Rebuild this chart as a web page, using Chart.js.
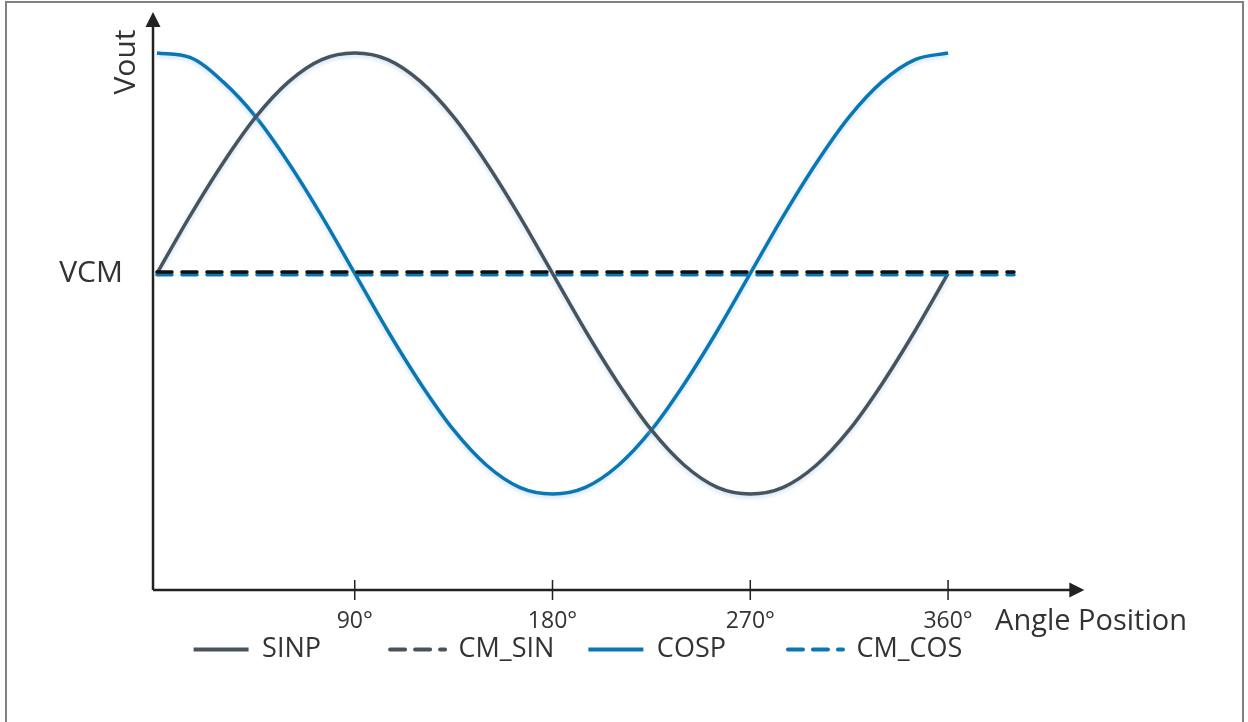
<!DOCTYPE html>
<html>
<head>
<meta charset="utf-8">
<script src="https://cdn.jsdelivr.net/npm/chart.js@4.4.1/dist/chart.umd.min.js"></script>
<style>
  html, body { margin: 0; padding: 0; background: #fff; overflow: hidden; }
  #wrap { position: relative; width: 1248px; height: 722px; overflow: hidden; }
  #frame { position: absolute; left: 5px; top: 1px; width: 1235px; height: 800px; border: 2px solid #808080; }
  #chartVout { position: absolute; left: 0; top: 0; }
</style>
</head>
<body>
<div id="wrap">
  <div id="frame"></div>
  <canvas id="chartVout" width="1248" height="722"></canvas>
</div>
<script>
// angle positions (degrees)
var angles = [0, 15, 30, 45, 60, 75, 90, 105, 120, 135, 150, 165, 180,
  195, 210, 225, 240, 255, 270, 285, 300, 315, 330, 345, 360];
// Vout relative to VCM
var sinp = [0, 0.26, 0.5, 0.71, 0.87, 0.97, 1, 0.97, 0.87, 0.71, 0.5, 0.26, 0,
  -0.26, -0.5, -0.71, -0.87, -0.97, -1, -0.97, -0.87, -0.71, -0.5, -0.26, 0];
var cosp = [1, 0.98, 0.87, 0.71, 0.5, 0.26, 0, -0.26, -0.5, -0.71, -0.87, -0.97, -1,
  -0.97, -0.87, -0.71, -0.5, -0.26, 0, 0.26, 0.5, 0.71, 0.87, 0.97, 1];
// common mode lines
var cmAngles = [0, 390];
var cmSin = [0.006, 0.006];
var cmCos = [-0.006, -0.006];
// x ticks
var tickAngles = [90, 180, 270, 360];
var tickLabels = ["90\u00b0", "180\u00b0", "270\u00b0", "360\u00b0"];

var sinColor = "#47535d";
var cosColor = "#0a77b5";
var axisColor = "#222222";
var textColor = "#333333";

function pts(xs, ys) {
  return xs.map(function(x, i) { return {x: x, y: ys[i]}; });
}

// axes with arrows, tick marks and labels
var axesPlugin = {
  id: 'axesPlugin',
  beforeDatasetsDraw: function(chart) {
    var ctx = chart.ctx, a = chart.chartArea, xs = chart.scales.x;
    var xEnd = xs.getPixelForValue(422);
    ctx.save();
    ctx.strokeStyle = axisColor;
    ctx.fillStyle = axisColor;
    ctx.lineWidth = 2.5;
    ctx.beginPath();
    ctx.moveTo(a.left, a.bottom);
    ctx.lineTo(a.left, a.top + 10);
    ctx.moveTo(a.left, a.bottom);
    ctx.lineTo(xEnd - 10, a.bottom);
    ctx.stroke();
    // arrow heads
    ctx.beginPath();
    ctx.moveTo(a.left, a.top);
    ctx.lineTo(a.left - 7.5, a.top + 15);
    ctx.lineTo(a.left + 7.5, a.top + 15);
    ctx.closePath();
    ctx.fill();
    ctx.beginPath();
    ctx.moveTo(xEnd, a.bottom);
    ctx.lineTo(xEnd - 15, a.bottom - 7.5);
    ctx.lineTo(xEnd - 15, a.bottom + 7.5);
    ctx.closePath();
    ctx.fill();
    // tick marks
    ctx.lineWidth = 1.5;
    ctx.beginPath();
    tickAngles.forEach(function(t) {
      var px = xs.getPixelForValue(t);
      ctx.moveTo(px, a.bottom - 10);
      ctx.lineTo(px, a.bottom + 10);
    });
    ctx.stroke();
    ctx.restore();
  },
  // faint glow under the waves
  beforeDatasetDraw: function(chart, args) {
    if (args.meta.dataset && !chart.data.datasets[args.index].borderDash) {
      chart.ctx.save();
      chart.ctx.shadowColor = 'rgba(160,195,230,0.55)';
      chart.ctx.shadowBlur = 4;
      chart.ctx.shadowOffsetY = 2;
    } else {
      chart.ctx.save();
    }
  },
  afterDatasetDraw: function(chart) {
    chart.ctx.restore();
  },
  afterDraw: function(chart) {
    var ctx = chart.ctx, a = chart.chartArea, xs = chart.scales.x, ys = chart.scales.y;
    ctx.save();
    ctx.fillStyle = textColor;
    ctx.textBaseline = 'middle';
    // tick labels
    ctx.font = "23px 'Open Sans'";
    ctx.textAlign = 'center';
    tickAngles.forEach(function(t, i) {
      ctx.fillText(tickLabels[i], xs.getPixelForValue(t), a.bottom + 31);
    });
    ctx.font = "30px 'Open Sans'";
    ctx.textAlign = 'right';
    ctx.fillText('VCM', a.left - 30, ys.getPixelForValue(0));
    ctx.font = "29px 'Open Sans'";
    ctx.textAlign = 'left';
    ctx.fillText('Angle Position', xs.getPixelForValue(360) + 47, a.bottom + 32);
    ctx.font = "30px 'Open Sans'";
    ctx.translate(a.left - 27, a.top + 50);
    ctx.rotate(-Math.PI / 2);
    ctx.textAlign = 'center';
    ctx.fillText('Vout', 0, 0);
    ctx.restore();
  }
};

var data = {
  datasets: [
    {
      label: "SINP     ",
      data: pts(angles, sinp),
      borderColor: sinColor,
      borderWidth: 3.5,
      order: 2
    },
    {
      label: "CM_SIN",
      data: pts(cmAngles, cmSin),
      borderColor: "#111111",
      borderWidth: 3.5,
      borderDash: [15, 10],
      borderCapStyle: 'round',
      order: 0
    },
    {
      label: "COSP    ",
      data: pts(angles, cosp),
      borderColor: cosColor,
      borderWidth: 3.5,
      order: 3
    },
    {
      label: "CM_COS",
      data: pts(cmAngles, cmCos),
      borderColor: cosColor,
      borderWidth: 3.5,
      borderDash: [15, 10],
      borderCapStyle: 'round',
      order: 1
    }
  ]
};

var options = {
  responsive: false,
  animation: false,
  layout: { padding: { left: 153, right: 245, top: 12, bottom: 49 } },
  elements: {
    point: { radius: 0 },
    line: { cubicInterpolationMode: 'monotone', fill: false }
  },
  datasets: { line: { clip: false } },
  scales: {
    x: {
      type: 'linear',
      min: -1.8,
      max: 385,
      grid: { display: false },
      border: { display: false },
      ticks: { display: false },
      afterFit: function(scale) { scale.height = 12; }
    },
    y: {
      display: false,
      min: -1.436,
      max: 1.186
    }
  },
  plugins: {
    tooltip: { enabled: false },
    legend: {
      position: 'bottom',
      fullSize: false,
      labels: {
        usePointStyle: true,
        pointStyle: 'line',
        pointStyleWidth: 55,
        padding: 34,
        color: textColor,
        font: { family: "'Open Sans'", size: 27 },
        sort: function(a, b) { return a.datasetIndex - b.datasetIndex; },
        generateLabels: function(chart) {
          var items = Chart.defaults.plugins.legend.labels.generateLabels(chart);
          items.forEach(function(it) {
            var ds = chart.data.datasets[it.datasetIndex];
            it.lineWidth = 4;
            it.pointStyle = 'line';
            it.lineDash = ds.borderDash || [];
            it.lineCap = ds.borderDash ? 'round' : 'butt';
            if (it.datasetIndex === 1) it.strokeStyle = sinColor;
          });
          return items;
        }
      }
    }
  }
};

var ctx = document.getElementById("chartVout").getContext("2d");
var chart = new Chart(ctx, {
  type: 'line',
  data: data,
  options: options,
  plugins: [axesPlugin]
});
</script>
</body>
</html>
